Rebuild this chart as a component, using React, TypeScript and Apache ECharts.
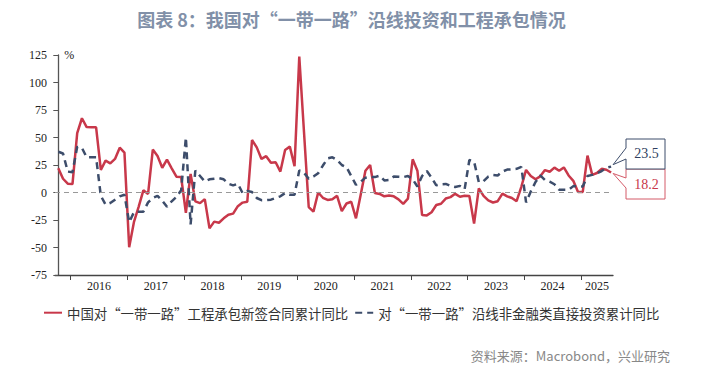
import React, { useEffect, useRef } from 'react';
import * as echarts from 'echarts';

const titleText = '图表 8：我国对“一带一路”沿线投资和工程承包情况';
const sourceText = '资料来源：Macrobond，兴业研究';
const seriesNames = ['中国对“一带一路”工程承包新签合同累计同比', '对“一带一路”沿线非金融类直接投资累计同比'];
const yearLabels = ['2016', '2017', '2018', '2019', '2020', '2021', '2022', '2023', '2024', '2025'];

// monthly observations, index 0 = first month shown (late 2015)
const contractYoY = [
  22, 12.5, 8, 7.7, 54, 67.5, 59.5, 59.3, 59.3, 20.5,
  29, 26.5, 30.5, 40.7, 36.3, -49.8, -27, -13, 2, -1.3,
  39, 33.2, 22.5, 29.8, 22, 14.4, 14, -18.4, 16.8, -8,
  -9.7, -6, -32.6, -26.5, -27.5, -23.5, -20.2, -19.2, -12.4, -9.2,
  -8.4, 47.7, 41, 30.5, 33, 27, 27.5, 19, 38.6, 41.7,
  24, 123.5, 55, -13.2, -17.4, 0, -4.8, -6.8, -6.2, -3,
  -17, -10, -8.4, -23.5, -2, 19.8, 25, -0.5, -1.3, -3.5,
  -2.7, -3.5, -6.2, -10.3, -5.5, 30.2, 19.8, -20.5, -20.8, -18,
  -11.4, -10.2, -5.5, -4.2, -1.2, -3.9, -3, -3.2, -28.3, 3.8,
  -3, -7.2, -9.1, -7.9, -1, -3.5, -5, -7.9, 5.2, 20.5,
  15, 12, 14.7, 20.4, 18.9, 22.6, 19.7, 22.8, 15.5, 10.6,
  0.5, 0.5, 33.6, 16, 17.7, 21.5, 20.7, 18.2,
];
const investYoY = [
  37, 35.5, 19, 18.5, 41.5, 40.5, 32, 32, 32, -3,
  -11, -9.5, -6.5, -3.5, -2, -27, -18, -17.5, -17.5, -9,
  -5, -3, -7.5, -13, -8, -4, 2, 50, -29, 20,
  15, 10, 12, 12.5, 13, 12, 8, 6.5, 8, -0.5,
  1.5, 0.5, -5, -7, -7, -6.5, -5, -3.5, -0.5, -2,
  -2, 20, 18, 12.5, 14.5, 17.5, 24.5, 31, 32, 29.5,
  25, 23, 15, 7, 9.8, 13.5, 14.3, 14, 15.3, 11,
  11.3, 14.5, 14.3, 14, 15, 12, 5.5, 15, 19.5, 13.5,
  6.5, 7.5, 7.8, 6, 5, 6, 3, 29.5, 28, 9.5,
  10.2, 14.5, 16, 15.5, 19, 20.8, 21, 21.5, 23.3, -9,
  1, 9.5, 15.5, 11.3, 9.8, 7.5, 2.5, 2.5, 2.5, 5.8,
  5.5, 5.5, 15, 16, 17.4, 19.5, 22.5, 23.5,
];

const RED = '#C8384A';
const BLUE = '#3D4D6B';
const SERIF = '"Liberation Serif", "Times New Roman", serif';
const CJK = '"Noto Sans CJK SC", sans-serif';

export default function App() {
  const ref = useRef<HTMLDivElement>(null);
  useEffect(() => {
    document.body.style.margin = '0';
    const chart = echarts.init(ref.current!, null, { renderer: 'svg' });
    const yearStart = 2.62; // position of January of the first labelled year on the month index
    const xMin = -0.7;
    const xMax = 117.4;
    const tickVals = yearLabels.map((_, k) => yearStart + 12 * k);
    const labelVals = tickVals.map((t, k) => (k < tickVals.length - 1 ? t + 6 : (t + xMax) / 2));
    chart.setOption({
      animation: false,
      backgroundColor: '#fff',
      title: {
        text: titleText,
        left: 'center',
        top: 5,
        textStyle: { fontFamily: CJK, fontSize: 18, fontWeight: 'bold', color: '#8190A8' },
      },
      grid: { left: 55, right: 90, top: 55, bottom: 93 },
      legend: {
        left: 38,
        top: 301,
        itemWidth: 18,
        itemHeight: 10,
        itemGap: 6,
        data: seriesNames,
        itemStyle: { opacity: 0 },
        textStyle: { fontFamily: CJK, fontSize: 13.4, color: '#333' },
      },
      xAxis: {
        type: 'value',
        min: xMin,
        max: xMax,
        splitLine: { show: false },
        axisLine: { show: true, onZero: false, lineStyle: { color: '#444', width: 1.3 } },
        axisTick: { show: true, length: 5, customValues: tickVals, lineStyle: { color: '#444' } },
        axisLabel: {
          customValues: labelVals,
          margin: 5,
          fontFamily: SERIF,
          fontSize: 12,
          color: '#222',
          formatter: (v: number) => yearLabels[Math.min(yearLabels.length - 1, Math.floor((v - yearStart) / 12))],
        },
      },
      yAxis: {
        type: 'value',
        min: -75,
        max: 125,
        interval: 25,
        name: '%',
        nameLocation: 'end',
        nameGap: 0,
        nameTextStyle: { align: 'left', verticalAlign: 'middle', padding: [0, 0, 0, 6], fontFamily: SERIF, fontSize: 12, color: '#222' },
        splitLine: { show: false },
        axisLine: { show: true, lineStyle: { color: '#555', width: 1.3 } },
        axisTick: { show: true, length: 5, lineStyle: { color: '#555' } },
        axisLabel: { margin: 8, fontFamily: SERIF, fontSize: 12, color: '#222' },
      },
      series: [
        {
          name: seriesNames[0],
          type: 'line',
          symbol: 'none',
          data: contractYoY.map((v, i) => [i, v]),
          lineStyle: { color: RED, width: 2.5 },
          itemStyle: { color: RED },
          markLine: {
            silent: true,
            symbol: 'none',
            label: { show: false },
            lineStyle: { color: '#999', type: [5, 4], width: 1.2 },
            data: [{ yAxis: 0 }],
          },
        },
        {
          name: seriesNames[1],
          type: 'line',
          symbol: 'none',
          data: investYoY.map((v, i) => [i, v]),
          lineStyle: { color: BLUE, width: 2.5, type: [7, 5] },
          itemStyle: { color: BLUE },
        },
      ],
    });

    const last = contractYoY.length - 1;
    const pB = chart.convertToPixel({ gridIndex: 0 }, [last, investYoY[last]]) as number[];
    const pR = chart.convertToPixel({ gridIndex: 0 }, [last, contractYoY[last]]) as number[];
    const bx0 = 626, bx1 = 665;
    const tipB = [pB[0] + 2, pB[1] - 2];
    const tipR = [pR[0] + 2, pR[1] + 1];
    chart.setOption({
      graphic: [
        {
          type: 'polygon',
          shape: { points: [[bx0, 169], [bx1, 169], [bx1, 199], [bx0, 199], [bx0, 188], tipR, [bx0, 178]] },
          style: { fill: '#fff', stroke: '#D45A68', lineWidth: 1 },
          z: 100,
        },
        {
          type: 'polygon',
          shape: { points: [[bx0, 139], [bx1, 139], [bx1, 169], [bx0, 169], [bx0, 159], tipB, [bx0, 148]] },
          style: { fill: '#fff', stroke: BLUE, lineWidth: 1 },
          z: 101,
        },
        {
          type: 'text',
          x: (bx0 + bx1) / 2 + 1,
          y: 153,
          style: { text: String(investYoY[last]), fill: '#2F3F5F', font: `14px ${SERIF}`, align: 'center', verticalAlign: 'middle' },
          z: 102,
        },
        {
          type: 'text',
          x: (bx0 + bx1) / 2 + 1,
          y: 184,
          style: { text: String(contractYoY[last]), fill: RED, font: `14px ${SERIF}`, align: 'center', verticalAlign: 'middle' },
          z: 102,
        },
        {
          type: 'text',
          right: 33,
          top: 349,
          style: { text: sourceText, fill: '#888', font: `13px ${CJK}` },
        },
      ],
    });
    return () => chart.dispose();
  }, []);
  return <div ref={ref} style={{ width: 703, height: 368 }} />;
}
